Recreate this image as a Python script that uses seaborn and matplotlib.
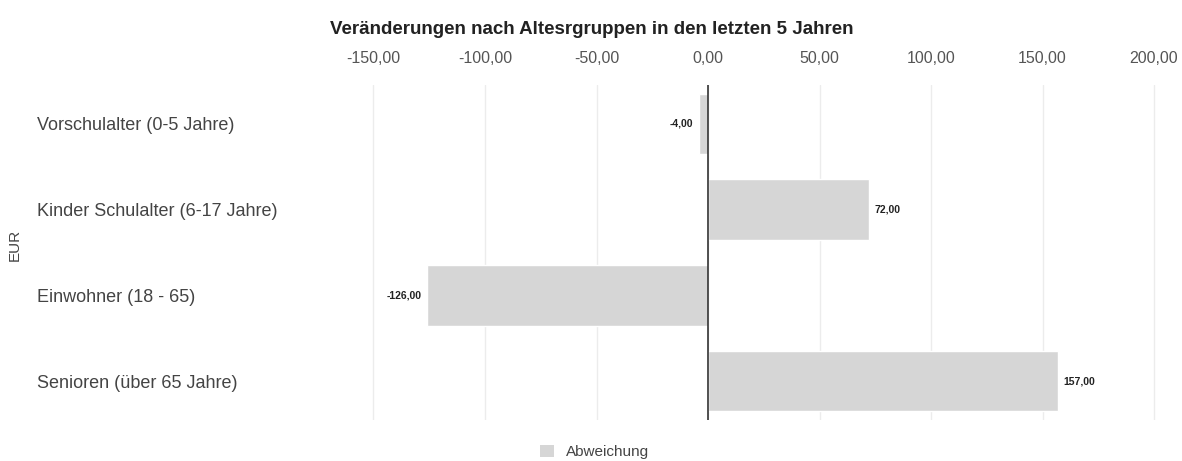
import matplotlib
matplotlib.use("Agg")
import matplotlib.pyplot as plt
import seaborn as sns
import pandas as pd
from matplotlib.patches import Patch

categories = [
    "Vorschulalter (0-5 Jahre)",
    "Kinder Schulalter (6-17 Jahre)",
    "Einwohner (18 - 65)",
    "Senioren (über 65 Jahre)",
]
values = [-4.0, 72.0, -126.0, 157.0]
series_name = "Abweichung"
x_ticks = [-150, -100, -50, 0, 50, 100, 150, 200]

sns.set_theme(style="white")
plt.rcParams["font.family"] = ["Liberation Sans", "DejaVu Sans"]


def de(v):
    return f"{v:.2f}".replace(".", ",")


df = pd.DataFrame({"Gruppe": categories, "Wert": values})

fig = plt.figure(figsize=(11.82, 4.61), dpi=100)
ax = fig.add_axes([330 / 1182, 1 - 420 / 461, (1175 - 330) / 1182, (420 - 85) / 461])

bar_color = "#d6d6d6"
sns.barplot(data=df, x="Wert", y="Gruppe", orient="h", color=bar_color,
            width=0.7, ax=ax, saturation=1)

ax.set_xlim(-169.5, 209.4)
ax.set_ylim(3.45, -0.45)
ax.set_xticks(x_ticks)
ax.set_xticklabels([de(t) for t in x_ticks])
ax.xaxis.tick_top()
ax.tick_params(axis="x", length=0, pad=14, labelsize=11.5, labelcolor="#555555")
ax.grid(axis="x", color="#ececec", linewidth=1)
ax.set_axisbelow(True)
ax.axvline(0, color="#333333", linewidth=1.2, zorder=3)

ax.set_xlabel("")
ax.set_ylabel("")
ax.tick_params(axis="y", length=0, pad=211, labelsize=13, labelcolor="#444444")
for lbl in ax.get_yticklabels():
    lbl.set_horizontalalignment("left")

for s in ax.spines.values():
    s.set_visible(False)

ax.bar_label(ax.containers[0], labels=[de(v) for v in values], padding=4,
             fontsize=7.5, fontweight="bold", color="#222222")

fig.text(330 / 1182, 1 - 30 / 461, "Veränderungen nach Altesrgruppen in den letzten 5 Jahren",
         fontsize=13.5, fontweight="bold", color="#222222", ha="left", va="center")
fig.text(15 / 1182, 1 - 245 / 461, "EUR", rotation=90, fontsize=11,
         color="#444444", ha="center", va="center")

fig.legend(handles=[Patch(facecolor=bar_color, edgecolor="none", label=series_name)],
           loc="center", bbox_to_anchor=(595 / 1182, 1 - 452 / 461), frameon=False,
           fontsize=11, handlelength=0.9, handleheight=0.9, labelcolor="#444444")

fig.savefig("out.png", dpi=100)
